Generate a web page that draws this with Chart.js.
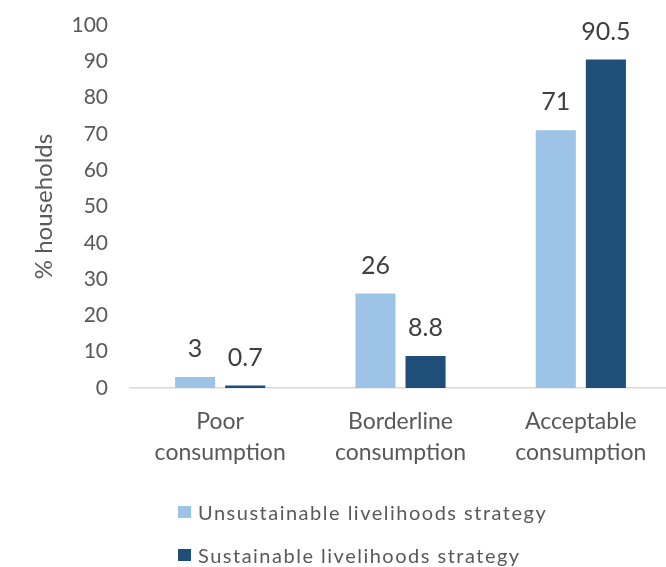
<!DOCTYPE html>
<html>
<head>
<meta charset="utf-8">
<script src="https://cdn.jsdelivr.net/npm/chart.js@4/dist/chart.umd.min.js"></script>
<style>
  html, body { margin: 0; padding: 0; background: #fff; overflow: hidden; width: 666px; height: 567px; }
  #wrap { position: relative; width: 672px; height: 567px; }
  #legend { position: absolute; left: 178px; top: 496px; font-family: Lato, sans-serif; font-size: 20px; color: #595959; letter-spacing: 1.5px; }
  .item { display: flex; align-items: center; height: 32px; margin-bottom: 11px; white-space: nowrap; }
  .box { width: 13px; height: 12px; margin-right: 7px; flex: none; }
</style>
</head>
<body>
<div id="wrap">
  <canvas id="c" width="672" height="567"></canvas>
  <div id="legend"></div>
</div>
<script>
const categories = [["Poor", "consumption"], ["Borderline", "consumption"], ["Acceptable", "consumption"]];
const seriesNames = ["Unsustainable livelihoods strategy", "Sustainable livelihoods strategy"];
const unsustainable = [3, 26, 71];
const sustainable = [0.7, 8.8, 90.5];
const seriesColors = ["#9DC3E6", "#1F4E79"];
const yTicks = [0, 10, 20, 30, 40, 50, 60, 70, 80, 90, 100];
const yTitle = "% households";

const labelPlugin = {
  id: 'valueLabels',
  afterDatasetsDraw(chart) {
    const ctx = chart.ctx;
    ctx.save();
    ctx.font = '25px Lato, sans-serif';
    ctx.fillStyle = '#404040';
    ctx.textAlign = 'center';
    ctx.textBaseline = 'middle';
    chart.data.datasets.forEach((ds, i) => {
      const meta = chart.getDatasetMeta(i);
      meta.data.forEach((el, j) => {
        ctx.fillText(String(ds.data[j]), el.x, el.y - 28);
      });
    });
    ctx.restore();
  }
};

const chart = new Chart(document.getElementById('c'), {
  type: 'bar',
  data: {
    labels: categories,
    datasets: [
      { label: seriesNames[0], data: unsustainable, backgroundColor: seriesColors[0] },
      { label: seriesNames[1], data: sustainable, backgroundColor: seriesColors[1] }
    ]
  },
  options: {
    responsive: false,
    animation: false,
    events: [],
    layout: { padding: { top: 25, right: 1, left: 0, bottom: 0 } },
    categoryPercentage: 100 / 180,
    barPercentage: 0.8,
    plugins: { legend: { display: false }, tooltip: { enabled: false } },
    scales: {
      x: {
        grid: { display: false, drawTicks: false },
        border: { display: true, color: '#d9d9d9', width: 1.5 },
        ticks: { color: '#595959', font: { family: 'Lato, sans-serif', size: 23, lineHeight: 1.35 }, padding: 18, maxRotation: 0, autoSkip: false },
        afterFit(s) { s.height = 179; }
      },
      y: {
        min: 0, max: 100,
        afterBuildTicks(s) { s.ticks = yTicks.map(v => ({ value: v })); },
        grid: { display: false, drawTicks: false },
        border: { display: false },
        ticks: { color: '#595959', font: { family: 'Lato, sans-serif', size: 21 }, padding: 22 },
        title: { display: true, text: yTitle, color: '#595959', font: { family: 'Lato, sans-serif', size: 24 }, padding: { top: 30, bottom: 0 } },
        afterFit(s) { s.width = 130; s.paddingTop = 0; s.paddingBottom = 0; }
      }
    }
  },
  plugins: [labelPlugin]
});

const legend = document.getElementById('legend');
seriesNames.forEach((n, i) => {
  const d = document.createElement('div');
  d.className = 'item';
  const b = document.createElement('span');
  b.className = 'box';
  b.style.background = seriesColors[i];
  const t = document.createElement('span');
  t.textContent = n;
  d.appendChild(b); d.appendChild(t);
  legend.appendChild(d);
});
</script>
</body>
</html>
